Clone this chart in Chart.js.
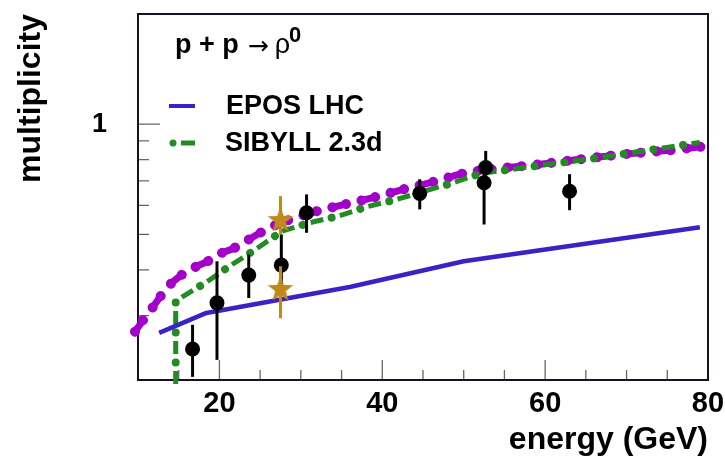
<!DOCTYPE html>
<html>
<head>
<meta charset="utf-8">
<script src="https://cdn.jsdelivr.net/npm/chart.js@4.4.1/dist/chart.umd.min.js"></script>
<style>
  html, body { margin: 0; padding: 0; background: #fff; }
  #wrap { width: 725px; height: 457px; }
</style>
</head>
<body>
<div id="wrap"><canvas id="chart" width="725" height="457"></canvas></div>
<script>
// axis ticks
const xTickLabels = [20, 40, 60, 80];
const xMinorTicks = [15, 25, 30, 35, 45, 50, 55, 65, 70, 75];
const yTickLabels = [1];
const yMinorTicks = [0.3, 0.4, 0.5, 0.6, 0.7, 0.8, 0.9];

// measurements (black points)
const dataX  = [16.7, 19.7, 23.6, 27.6, 30.7, 44.6, 52.5, 52.7, 63.0];
const dataY  = [0.243, 0.325, 0.387, 0.412, 0.573, 0.647, 0.692, 0.761, 0.656];
const dataLo = [0.204, 0.227, 0.335, 0.36, 0.505, 0.585, 0.532, 0.70, 0.582];
const dataHi = [0.283, 0.422, 0.440, 0.50, 0.643, 0.707, 0.735, 0.845, 0.730];

// measurements (gold stars)
const starX  = [27.5, 27.5];
const starY  = [0.551, 0.357];
const starLo = [0.50, 0.295];
const starHi = [0.636, 0.409];

// EPOS LHC
const eposX = [12.6, 18.4, 36.0, 50.0, 79.0];
const eposY = [0.269, 0.305, 0.359, 0.422, 0.523];

// SIBYLL 2.3d
const sibyllX = [14.63, 14.63, 15.4, 18.4, 21.5, 23.8, 27.7, 31.1, 34.6, 38.1, 41.8, 48.7, 52.4, 56.0, 60.0, 66.7, 74.1, 79.0];
const sibyllY = [0.195, 0.328, 0.337, 0.370, 0.413, 0.445, 0.510, 0.538, 0.561, 0.595, 0.623, 0.692, 0.737, 0.753, 0.775, 0.810, 0.858, 0.891];

// third model (magenta, not in legend)
const curve3X = [9.63, 10.65, 11.9, 12.9, 14.1, 15.4, 17.2, 18.4, 20.3, 21.7, 23.6, 25.0, 27.0, 28.7, 32.0, 35.4, 38.9, 42.6, 45.9, 49.5, 51.6, 55.3, 59.4, 63.5, 69.6, 75.7, 79.4];
const curve3Y = [0.271, 0.292, 0.318, 0.342, 0.368, 0.388, 0.409, 0.420, 0.445, 0.457, 0.484, 0.505, 0.532, 0.549, 0.579, 0.604, 0.630, 0.664, 0.692, 0.730, 0.745, 0.761, 0.777, 0.798, 0.828, 0.850, 0.869];

const BLUE = '#3a22c4';
const GREEN = '#228b22';
const MAGENTA = '#a300c9';
const GOLD = '#bf8a1c';
const FONT = "'Liberation Sans', Arial, sans-serif";

const toPts = (xs, ys) => xs.map((x, i) => ({ x, y: ys[i] }));

function makeStar(size, color) {
  const c = document.createElement('canvas');
  c.width = c.height = size;
  const g = c.getContext('2d');
  const R = size / 2 - 0.5, r = R * 0.42, cx = size / 2, cy = size / 2 + 1.5;
  g.fillStyle = color;
  g.beginPath();
  for (let i = 0; i < 10; i++) {
    const a = -Math.PI / 2 + i * Math.PI / 5;
    const rad = i % 2 ? r : R;
    g.lineTo(cx + rad * Math.cos(a), cy + rad * Math.sin(a));
  }
  g.closePath();
  g.fill();
  return c;
}

const lineDefaults = { showLine: true, pointRadius: 0, fill: false, tension: 0, borderCapStyle: 'round', borderJoinStyle: 'round' };

const decor = {
  id: 'decor',
  beforeDatasetsDraw(chart) {
    const { ctx, chartArea: a, scales: { x, y } } = chart;
    ctx.save();
    // inner tick marks
    ctx.strokeStyle = '#666';
    ctx.lineWidth = 1.3;
    ctx.beginPath();
    yMinorTicks.forEach(v => { const py = y.getPixelForValue(v); ctx.moveTo(a.left, py); ctx.lineTo(a.left + 11, py); });
    yTickLabels.forEach(v => { const py = y.getPixelForValue(v); ctx.moveTo(a.left, py); ctx.lineTo(a.left + 22, py); });
    xMinorTicks.forEach(v => { const px = x.getPixelForValue(v); ctx.moveTo(px, a.bottom); ctx.lineTo(px, a.bottom - 10); });
    xTickLabels.forEach(v => { const px = x.getPixelForValue(v); ctx.moveTo(px, a.bottom); ctx.lineTo(px, a.bottom - 20); });
    ctx.stroke();
    // frame
    ctx.strokeStyle = '#1b1020';
    ctx.lineWidth = 2;
    ctx.strokeRect(a.left, a.top, a.right - a.left, a.bottom - a.top);
    ctx.restore();
  },
  beforeDatasetDraw(chart, args) {
    const ds = chart.data.datasets[args.index];
    if (!ds.errLo) return;
    const { ctx, scales: { x, y } } = chart;
    ctx.save();
    ctx.strokeStyle = ds.errColor;
    ctx.lineWidth = 3;
    ds.data.forEach((p, i) => {
      const px = x.getPixelForValue(p.x);
      ctx.beginPath();
      ctx.moveTo(px, y.getPixelForValue(ds.errLo[i]));
      ctx.lineTo(px, y.getPixelForValue(ds.errHi[i]));
      ctx.stroke();
    });
    ctx.restore();
  },
  afterDraw(chart) {
    const { ctx } = chart;
    ctx.save();
    ctx.fillStyle = '#000';
    ctx.textBaseline = 'alphabetic';
    // reaction label
    let px = 175;
    ctx.font = 'bold 27px ' + FONT;
    ctx.fillText('p + p', px, 53);
    px += ctx.measureText('p + p').width + 9;
    ctx.font = "25px 'DejaVu Sans', sans-serif";
    ctx.fillText('\u2192', px, 54);
    px += ctx.measureText('\u2192').width + 6;
    ctx.font = '27px ' + FONT;
    ctx.fillText('\u03C1', px, 53);
    px += ctx.measureText('\u03C1').width - 1;
    ctx.font = 'bold 22px ' + FONT;
    ctx.fillText('0', px, 42);

    // legend
    ctx.lineCap = 'butt';
    ctx.strokeStyle = BLUE;
    ctx.lineWidth = 4;
    ctx.beginPath(); ctx.moveTo(169, 106); ctx.lineTo(195, 106); ctx.stroke();
    ctx.strokeStyle = GREEN;
    ctx.lineWidth = 5;
    ctx.beginPath(); ctx.moveTo(181, 143); ctx.lineTo(195, 143); ctx.stroke();
    ctx.fillStyle = GREEN;
    ctx.beginPath(); ctx.arc(173, 143, 3.5, 0, Math.PI * 2); ctx.fill();
    ctx.fillStyle = '#000';
    ctx.font = 'bold 27px ' + FONT;
    ctx.textBaseline = 'middle';
    ctx.fillText('EPOS LHC', 226, 107);
    ctx.fillText('SIBYLL 2.3d', 225, 144);
    ctx.restore();
  }
};

new Chart(document.getElementById('chart'), {
  type: 'scatter',
  data: {
    datasets: [
      { label: 'stars', data: toPts(starX, starY), pointStyle: makeStar(28, GOLD), pointRadius: 13,
        errLo: starLo, errHi: starHi, errColor: GOLD },
      { label: 'data', data: toPts(dataX, dataY), pointRadius: 7.5, pointBackgroundColor: '#000', pointBorderWidth: 0,
        errLo: dataLo, errHi: dataHi, errColor: '#000' },
      { ...lineDefaults, label: 'EPOS LHC', data: toPts(eposX, eposY), borderColor: BLUE, borderWidth: 4.5, borderCapStyle: 'butt' },
      { ...lineDefaults, label: 'SIBYLL dots', data: toPts(sibyllX, sibyllY), borderColor: GREEN, borderWidth: 8,
        borderDash: [0.01, 29.99], borderDashOffset: 8.5, clip: { left: 0, top: 0, right: 0, bottom: 8 } },
      { ...lineDefaults, label: 'SIBYLL 2.3d', data: toPts(sibyllX, sibyllY), borderColor: GREEN, borderWidth: 5,
        borderDash: [13, 17], borderCapStyle: 'butt', clip: { left: 0, top: 0, right: 0, bottom: 8 } },
      { ...lineDefaults, label: 'curve3 dots', data: toPts(curve3X, curve3Y), borderColor: MAGENTA, borderWidth: 10,
        borderDash: [0.01, 13.99, 0.01, 15.99], clip: { left: 8, top: 0, right: 8, bottom: 0 } },
      { ...lineDefaults, label: 'curve3', data: toPts(curve3X, curve3Y), borderColor: MAGENTA, borderWidth: 7,
        borderDash: [14, 16], borderCapStyle: 'butt', clip: { left: 8, top: 0, right: 8, bottom: 0 } }
    ]
  },
  options: {
    responsive: false,
    animation: false,
    devicePixelRatio: 1,
    layout: { padding: { top: 13, right: 17, left: 0, bottom: 0 } },
    plugins: { legend: { display: false }, tooltip: { enabled: false } },
    scales: {
      x: {
        type: 'linear', min: 10, max: 80,
        afterBuildTicks: s => { s.ticks = xTickLabels.map(v => ({ value: v })); },
        afterFit: s => { s.height = 77; s.paddingLeft = 0; s.paddingRight = 0; },
        grid: { display: false, drawTicks: false },
        border: { display: false },
        ticks: { padding: 9, maxRotation: 0, autoSkip: false, color: '#000',
          font: { family: FONT, size: 29, weight: 'bold', lineHeight: 1 }, callback: v => String(v) },
        title: { display: true, text: 'energy (GeV)', align: 'end', color: '#000',
          font: { family: FONT, size: 32, weight: 'bold', lineHeight: 1 }, padding: { top: 0, bottom: 1 } }
      },
      y: {
        type: 'logarithmic', min: 0.2, max: 2,
        afterBuildTicks: s => { s.ticks = yTickLabels.map(v => ({ value: v })); },
        afterFit: s => { s.width = 138; s.paddingTop = 0; s.paddingBottom = 0; },
        grid: { display: false, drawTicks: false },
        border: { display: false },
        ticks: { padding: 31, color: '#000', autoSkip: false,
          font: { family: FONT, size: 27, weight: 'bold', lineHeight: 1 }, callback: v => String(v) },
        title: { display: true, text: 'multiplicity', align: 'end', color: '#000',
          font: { family: FONT, size: 32, weight: 'bold', lineHeight: 1 }, padding: { top: 15, bottom: 0 } }
      }
    }
  },
  plugins: [decor]
});
</script>
</body>
</html>
